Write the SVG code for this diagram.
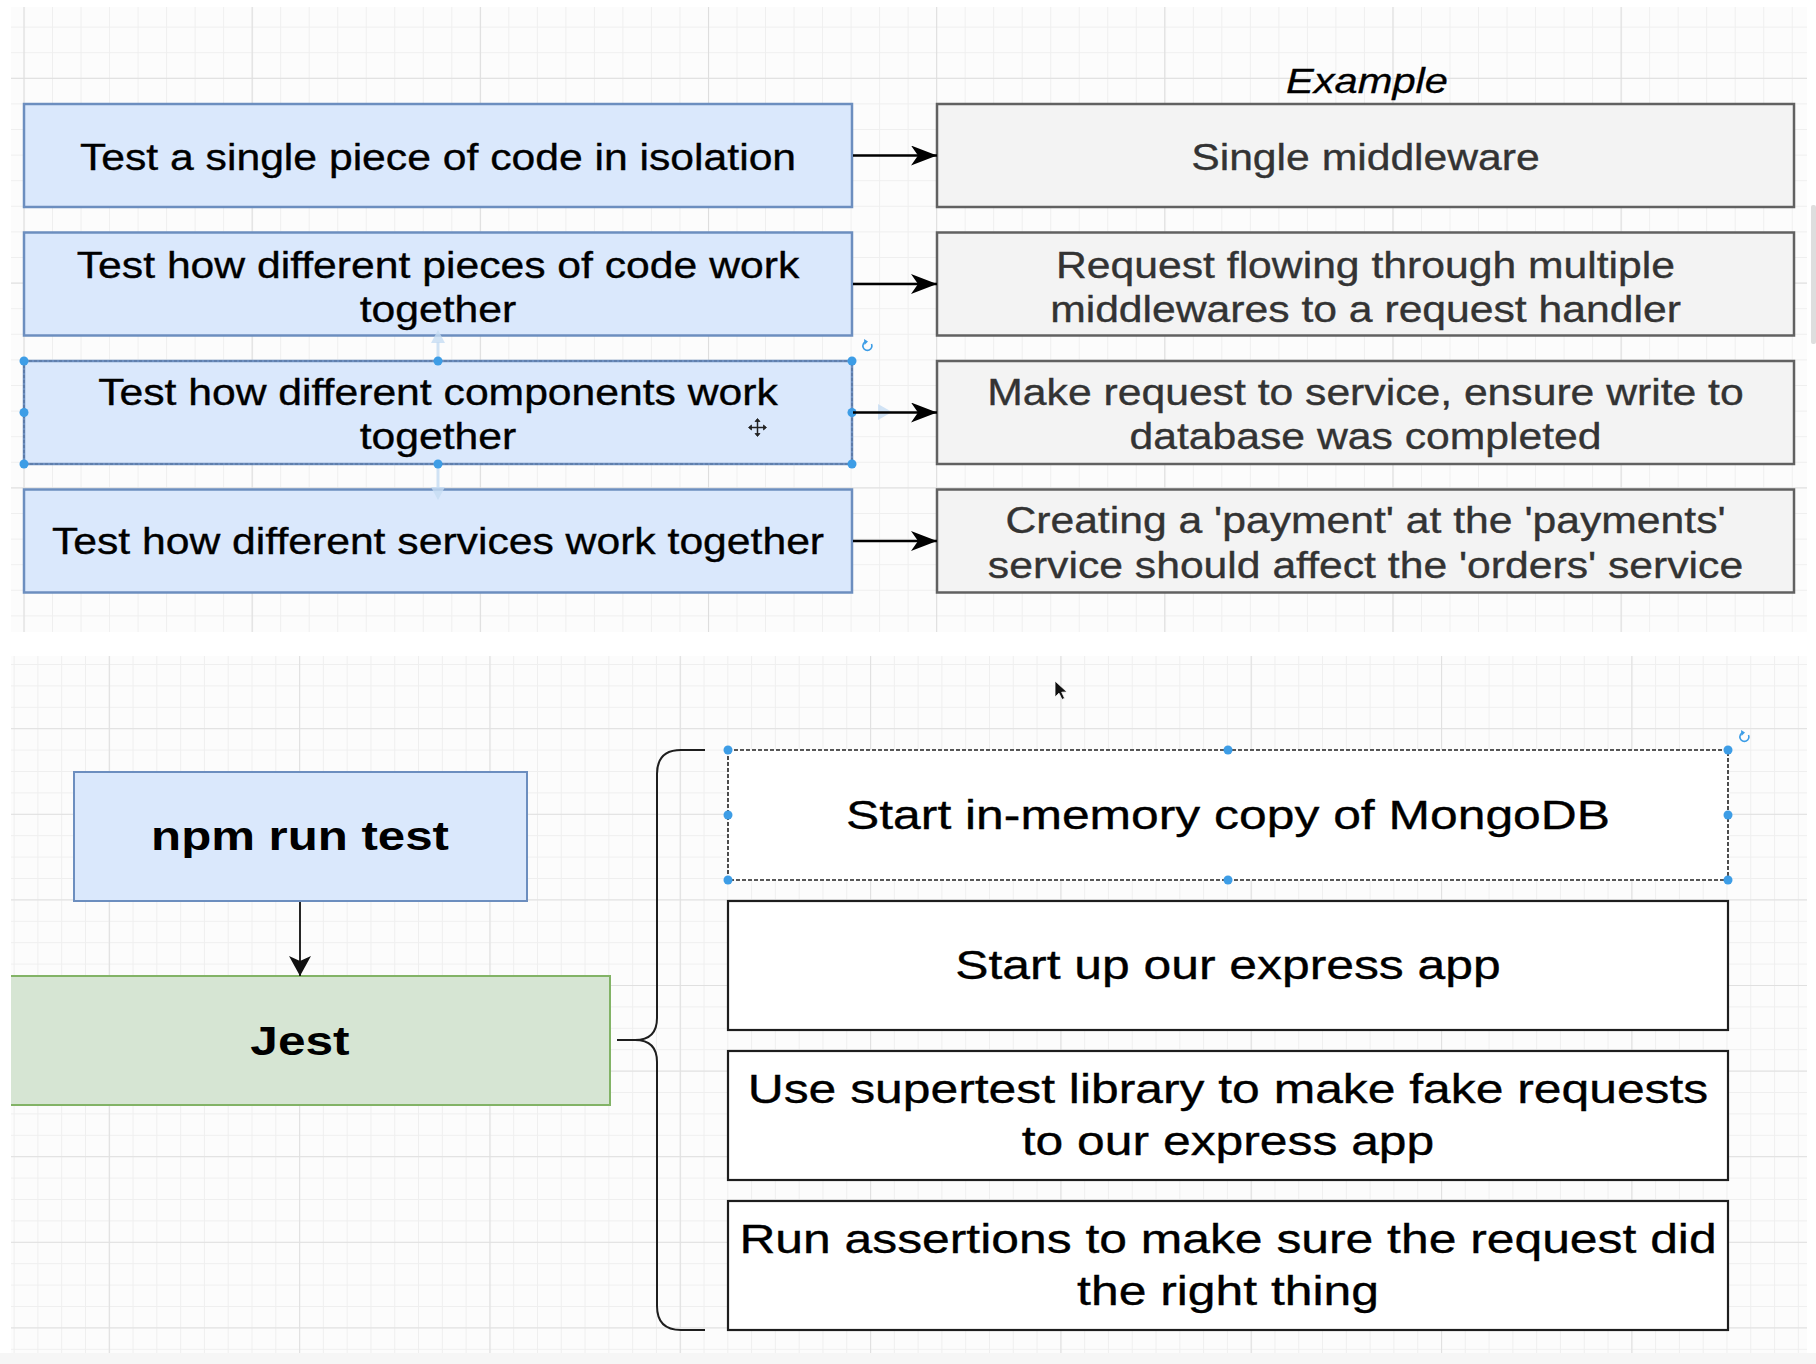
<svg xmlns="http://www.w3.org/2000/svg" width="1816" height="1364" viewBox="0 0 1816 1364">
  <style>
    .t { font-family: 'Liberation Sans', Arial, Helvetica, sans-serif; text-anchor: middle; }
    .top { font-size: 36px; fill: #000; stroke: #000; stroke-width: 0.35; }
    .topg { font-size: 36px; fill: #333; stroke: #333; stroke-width: 0.35; }
    .ex { font-size: 35px; font-style: italic; fill: #000; stroke: #000; stroke-width: 0.3; }
    .bot { font-size: 41px; fill: #000; stroke: #000; stroke-width: 0.35; }
    .bold { font-size: 41px; font-weight: bold; fill: #000; }
    .blue { fill: #dae8fc; stroke: #6c8ebf; stroke-width: 2.5; }
    .gray { fill: #f3f3f3; stroke: #616161; stroke-width: 2.5; }
    .white { fill: #fff; stroke: #1e1e1e; stroke-width: 2.2; }
    .npm { fill: #dae8fc; stroke: #6c8ebf; stroke-width: 2; }
    .jest { fill: #d6e5d3; stroke: #82b366; stroke-width: 2; }
    .conn { stroke: #000; stroke-width: 2.5; fill: none; }
    .conn2 { stroke: #111; stroke-width: 1.8; fill: none; }
    .brace { stroke: #1e1e1e; stroke-width: 2; fill: none; }
    .h { fill: #3d9de6; }
    .rot { fill: none; stroke: #3d9de6; stroke-width: 1.6; }
    .hover { fill: #c6dcf3; stroke: none; opacity: 0.8; }
    .hoverl { stroke: #c6dcf3; stroke-width: 3; opacity: 0.8; }
  </style>
  <defs>
    <pattern id="gTopMinor" patternUnits="userSpaceOnUse" x="23.5" y="77.8" width="28.52" height="25.6">
      <path d="M0.5,0 V25.6 M0,0.5 H28.52" stroke="#efefef" stroke-width="1" fill="none"/>
    </pattern>
    <pattern id="gTopMajor" patternUnits="userSpaceOnUse" x="23.5" y="77.8" width="228.16" height="204.8">
      <path d="M0.5,0 V204.8 M0,0.5 H228.16" stroke="#dedede" stroke-width="1.2" fill="none"/>
    </pattern>
    <pattern id="gBotMinor" patternUnits="userSpaceOnUse" x="13.6" y="728.2" width="23.79" height="21.4">
      <path d="M0.5,0 V21.4 M0,0.5 H23.79" stroke="#efefef" stroke-width="1" fill="none"/>
    </pattern>
    <pattern id="gBotMajor" patternUnits="userSpaceOnUse" x="108.8" y="728.2" width="190.32" height="85.6">
      <path d="M0.5,0 V85.6 M0,0.5 H190.32" stroke="#e0e0e0" stroke-width="1.2" fill="none"/>
    </pattern>
    <clipPath id="botClip"><rect x="11" y="656" width="1796" height="697"/></clipPath>
    <marker id="arrTop" markerUnits="userSpaceOnUse" markerWidth="27" markerHeight="21" refX="26" refY="10" orient="auto">
      <path d="M0,0 L26,10 L0,20 L7,10 Z" fill="#000"/>
    </marker>
    <marker id="arrDown" markerUnits="userSpaceOnUse" markerWidth="21" markerHeight="23" refX="20" refY="11" orient="auto">
      <path d="M0,0 L20,11 L0,22 L5,11 Z" fill="#111"/>
    </marker>
  </defs>

  <!-- background -->
  <rect x="0" y="0" width="1816" height="1364" fill="#ffffff"/>
  <rect x="11" y="7" width="1796" height="625" fill="#fcfcfc"/>
  <rect x="11" y="7" width="1796" height="625" fill="url(#gTopMinor)"/>
  <rect x="11" y="7" width="1796" height="625" fill="url(#gTopMajor)"/>
  <rect x="11" y="656" width="1796" height="697" fill="#fcfcfc"/>
  <rect x="11" y="656" width="1796" height="697" fill="url(#gBotMinor)"/>
  <rect x="11" y="656" width="1796" height="697" fill="url(#gBotMajor)"/>
  <rect x="0" y="1353" width="1816" height="11" fill="#f6f6f6"/>
  <rect x="1811" y="205" width="5" height="139" rx="2" fill="#dedede"/>

  <!-- top section: levels -->
  <text class="t ex" transform="translate(1367 93) scale(1.19 1)">Example</text>

  <g id="unit">
    <rect class="blue" x="24" y="104" width="828" height="103"/>
    <text class="t top" transform="translate(438 169.5) scale(1.185 1)">Test a single piece of code in isolation</text>
  </g>
  <g id="unit-example">
    <rect class="gray" x="937" y="104" width="857" height="103"/>
    <text class="t topg" transform="translate(1365.5 169.5) scale(1.185 1)">Single middleware</text>
  </g>

  <g id="integration">
    <rect class="blue" x="24" y="232.5" width="828" height="103"/>
    <text class="t top" transform="translate(438 277.5) scale(1.185 1)"><tspan x="0" y="0">Test how different pieces of code work</tspan><tspan x="0" y="45">together</tspan></text>
  </g>
  <g id="integration-example">
    <rect class="gray" x="937" y="232.5" width="857" height="103"/>
    <text class="t topg" transform="translate(1365.5 277.5) scale(1.185 1)"><tspan x="0" y="0">Request flowing through multiple</tspan><tspan x="0" y="45">middlewares to a request handler</tspan></text>
  </g>

  <g id="component">
    <rect class="blue" x="24" y="361" width="828" height="103"/>
    <rect x="24" y="361" width="828" height="103" fill="none" stroke="#55709a" stroke-width="1.2" stroke-dasharray="3 2"/>
    <text class="t top" transform="translate(438 404.5) scale(1.185 1)"><tspan x="0" y="0">Test how different components work</tspan><tspan x="0" y="45">together</tspan></text>
  </g>
  <g id="component-example">
    <rect class="gray" x="937" y="361" width="857" height="103"/>
    <text class="t topg" transform="translate(1365.5 404.5) scale(1.185 1)"><tspan x="0" y="0">Make request to service, ensure write to</tspan><tspan x="0" y="45">database was completed</tspan></text>
  </g>

  <g id="e2e">
    <rect class="blue" x="24" y="489.5" width="828" height="103"/>
    <text class="t top" transform="translate(438 554) scale(1.185 1)">Test how different services work together</text>
  </g>
  <g id="e2e-example">
    <rect class="gray" x="937" y="489.5" width="857" height="103"/>
    <text class="t topg" transform="translate(1365.5 533) scale(1.185 1)"><tspan x="0" y="0">Creating a 'payment' at the 'payments'</tspan><tspan x="0" y="45">service should affect the 'orders' service</tspan></text>
  </g>

  <!-- selection / hover decorations (top) -->
  <g id="selection-top">
    <path class="hoverl" d="M438,342 V358"/>
    <path class="hover" d="M431,343 L438,330 L445,343 Z"/>
    <path class="hoverl" d="M438,467 V488"/>
    <path class="hover" d="M431,487 L438,500 L445,487 Z"/>
    <path class="hover" d="M878,404 L892,412 L878,420 Z"/>
    <circle class="h" cx="24" cy="361" r="4.5"/>
    <circle class="h" cx="438" cy="361" r="4.5"/>
    <circle class="h" cx="852" cy="361" r="4.5"/>
    <circle class="h" cx="24" cy="412.5" r="4.5"/>
    <circle class="h" cx="852" cy="412.5" r="4.5"/>
    <circle class="h" cx="24" cy="464" r="4.5"/>
    <circle class="h" cx="438" cy="464" r="4.5"/>
    <circle class="h" cx="852" cy="464" r="4.5"/>
    <path class="rot" d="M871.5,344 A4.5,4.5 0 1 1 866,341.6"/>
    <path d="M864,339 L868,341.5 L864.5,345 Z" fill="#3d9de6"/>
    <g stroke="#222" stroke-width="1.5" fill="#222">
      <path d="M751,427.5 H764 M757.5,421 V434" fill="none"/>
      <path d="M748.5,427.5 L751.5,425 L751.5,430 Z M766.5,427.5 L763.5,425 L763.5,430 Z M757.5,418.5 L755,421.5 L760,421.5 Z M757.5,436.5 L755,433.5 L760,433.5 Z" stroke-width="0.8"/>
    </g>
  </g>

  <!-- bottom section -->
  <g clip-path="url(#botClip)">
    <g id="npm-run-test">
      <rect class="npm" x="74" y="772" width="453" height="129"/>
      <text class="t bold" transform="translate(300 850) scale(1.2 1)">npm run test</text>
    </g>
    <g id="jest">
      <rect class="jest" x="-10" y="976" width="620" height="129"/>
      <text class="t bold" transform="translate(300 1055) scale(1.21 1)">Jest</text>
    </g>
  </g>

  <g id="step-mongodb">
    <rect x="728" y="750" width="1000" height="130" fill="#fff" stroke="#222" stroke-width="1.6" stroke-dasharray="4 2"/>
    <text class="t bot" transform="translate(1228 829) scale(1.215 1)">Start in-memory copy of MongoDB</text>
  </g>
  <g id="step-express">
    <rect class="white" x="728" y="901" width="1000" height="129"/>
    <text class="t bot" transform="translate(1228 978.5) scale(1.215 1)">Start up our express app</text>
  </g>
  <g id="step-supertest">
    <rect class="white" x="728" y="1051" width="1000" height="129"/>
    <text class="t bot" transform="translate(1228 1103) scale(1.215 1)"><tspan x="0" y="0">Use supertest library to make fake requests</tspan><tspan x="0" y="52.5">to our express app</tspan></text>
  </g>
  <g id="step-assertions">
    <rect class="white" x="728" y="1201" width="1000" height="129"/>
    <text class="t bot" transform="translate(1228 1253) scale(1.215 1)"><tspan x="0" y="0">Run assertions to make sure the request did</tspan><tspan x="0" y="52.5">the right thing</tspan></text>
  </g>

  <!-- selection decorations (bottom) -->
  <g id="selection-bottom">
    <circle class="h" cx="728" cy="750" r="4.5"/>
    <circle class="h" cx="1228" cy="750" r="4.5"/>
    <circle class="h" cx="1728" cy="750" r="4.5"/>
    <circle class="h" cx="728" cy="815" r="4.5"/>
    <circle class="h" cx="1728" cy="815" r="4.5"/>
    <circle class="h" cx="728" cy="880" r="4.5"/>
    <circle class="h" cx="1228" cy="880" r="4.5"/>
    <circle class="h" cx="1728" cy="880" r="4.5"/>
    <path class="rot" d="M1748.5,735 A4.5,4.5 0 1 1 1743,732.6"/>
    <path d="M1741,730 L1745,732.5 L1741.5,736 Z" fill="#3d9de6"/>
    <path d="M1055,681 L1055,697 L1059,693.2 L1062,699.5 L1064.6,698.3 L1061.7,692.2 L1067,692 Z" fill="#111" stroke="#fff" stroke-width="0.8"/>
  </g>

  <!-- connectors -->
  <g id="connectors">
    <line class="conn" x1="853" y1="155.5" x2="937" y2="155.5" marker-end="url(#arrTop)"/>
    <line class="conn" x1="853" y1="284" x2="937" y2="284" marker-end="url(#arrTop)"/>
    <line class="conn" x1="853" y1="412.5" x2="937" y2="412.5" marker-end="url(#arrTop)"/>
    <line class="conn" x1="853" y1="541" x2="937" y2="541" marker-end="url(#arrTop)"/>
    <line class="conn2" x1="300" y1="902" x2="300" y2="976" marker-end="url(#arrDown)"/>
    <path class="brace" d="M705,750 H681 Q657,750 657,774 V1018 Q657,1040 635,1040 H617 M635,1040 Q657,1040 657,1062 V1306 Q657,1330 681,1330 H705"/>
  </g>
</svg>
